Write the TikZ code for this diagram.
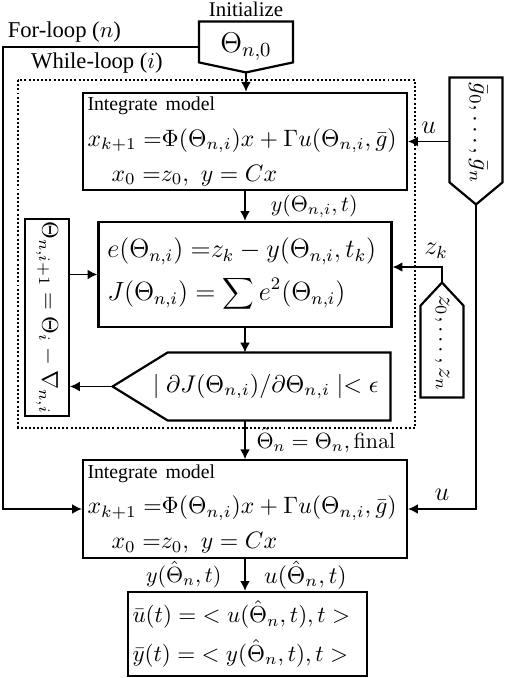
\documentclass[tikz,border=0pt]{standalone}
\usepackage{fix-cm}
\usepackage[no-math]{fontspec}
\setmainfont{Liberation Serif}
\usetikzlibrary{positioning,arrows.meta,calc}

\newcommand{\fsz}[1]{\fontsize{#1}{1.2\dimexpr#1pt\relax}\selectfont}

\begin{document}
\begin{tikzpicture}[>={Latex[length=4.5pt,width=4.5pt]}, x=0.16mm, y=-0.16mm,
  blk/.style={draw, line width=1pt, inner sep=2pt, align=left},
  shp/.style={inner sep=0pt},
  edge/.style={line width=1pt},
  lbl/.style={font=\fsz{10.3}, inner sep=2pt},
  arr/.style={->, thick}]
  \useasboundingbox (0,0) rectangle (505,678);

  \node[shp, minimum width=14.88mm, minimum height=8mm, font=\fsz{13}] (th0) at (246,47) {$\Theta_{n,0}$};
  \draw[edge] (th0.north west) -- (th0.north east) -- ($(th0.south east)+(0,-10)$) -- (th0.south) -- ($(th0.south west)+(0,-10)$) -- cycle;
  \node[lbl, font=\fsz{9.5}, above=0pt of th0] (initlbl) {Initialize};

  \draw[line width=0.9pt, dash pattern=on 0.9pt off 1pt] (18,80) rectangle (415,428);
  \node[lbl] (whilelbl) at (97,63) {While-loop ($i$)};

  \node[blk, text width=50.4mm, minimum height=14.88mm, font=\fsz{10.8}] (model1) at (245,141.5)
    {{\small Integrate model}\\[3pt]
     $x_{k+1}\;{=}\Phi(\Theta_{n,i})x+\Gamma u(\Theta_{n,i},\bar{g})$\\[3pt]
     \hspace*{11pt}$x_0\;{=}z_0,\ y=Cx$};
  \node[blk, inner xsep=4pt, text width=44.06mm, minimum height=16.8mm, font=\fsz{12}] (cost) at (245,274.5)
    {$e(\Theta_{n,i})\;{=}z_k-y(\Theta_{n,i},t_k)$\\[5pt]
     $J(\Theta_{n,i})=\displaystyle\sum e^2(\Theta_{n,i})$};

  \node[shp, minimum width=44.32mm, minimum height=10.72mm] (dec) at (251.5,386.5) {};
  \draw[edge] ($(dec.north west)+(55,0)$) -- (dec.north east) -- (dec.south east) -- ($(dec.south west)+(55,0)$) -- (dec.west) -- cycle;
  \node[anchor=east, font=\fsz{11}] (cond) at ($(dec.east)+(-4,0)$) {$\mid\partial J(\Theta_{n,i})/\partial\Theta_{n,i}\mid<\epsilon$};

  \node[draw, thick, minimum width=7.04mm, minimum height=31.52mm] (upd) at (47,317.5) {};
  \node[rotate=-90, font=\fsz{10.4}] (updtxt) at (upd.center) {$\Theta_{n,i+1}=\Theta_i-\nabla_{n,i}$};

  \node[shp, minimum width=8.32mm, minimum height=20.16mm] (gseq) at (476,141) {};
  \draw[edge] (gseq.north west) -- (gseq.north east) -- ($(gseq.south east)+(0,-22)$) -- (gseq.south) -- ($(gseq.south west)+(0,-22)$) -- cycle;
  \node[rotate=-90, font=\fsz{11}] (gtxt) at ($(gseq.center)+(2,-8)$) {$\bar{g}_0,\ldots,\bar{g}_n$};

  \node[shp, minimum width=6.72mm, minimum height=18.24mm] (zseq) at (442,340) {};
  \draw[edge] (zseq.south west) -- (zseq.south east) -- ($(zseq.north east)+(0,23)$) -- (zseq.north) -- ($(zseq.north west)+(0,23)$) -- cycle;
  \node[rotate=-90, font=\fsz{10.5}] (ztxt) at ($(zseq.center)+(0,3)$) {$z_0,\ldots,z_n$};

  \node[blk, text width=50.4mm, minimum height=15.04mm, font=\fsz{10.8}] (model2) at (245,509)
    {{\small Integrate model}\\[3pt]
     $x_{k+1}\;{=}\Phi(\Theta_{n,i})x+\Gamma u(\Theta_{n,i},\bar{g})$\\[3pt]
     \hspace*{11pt}$x_0\;{=}z_0,\ y=Cx$};
  \node[blk, text width=36.8mm, minimum height=13.44mm, font=\fsz{10.5}] (out) at (247.5,634)
    {$\bar{u}(t)=\;<u(\hat{\Theta}_n,t),t>$\\[5pt]
     $\bar{y}(t)=\;<y(\hat{\Theta}_n,t),t>$};

  \coordinate (forx) at (3,0);
  \node[lbl, anchor=south west] (forlbl) at (forx |- th0.west) {For-loop ($n$)};

  \draw[arr] (th0.south) -- (th0.south |- model1.north);
  \draw[arr] (model1.south) -- (model1.south |- cost.north) node[midway, right=8pt] {$y(\Theta_{n,i},t)$};
  \draw[arr] (cost.south) -- (cost.south |- dec.north);
  \draw[arr] (dec.west) -- (dec.west -| upd.east);
  \draw[arr] (cost.west -| upd.east) -- (cost.west);
  \draw[arr] (dec.south -| model2.north) -- (model2.north) node[midway, right=1.5pt] {$\hat{\Theta}_n=\Theta_n,\mathrm{final}$};
  \draw[arr] (model2.south) -- (model2.south |- out.north)
    node[midway, left=7pt] {$y(\hat{\Theta}_n,t)$} node[midway, right=5pt, font=\fsz{10.8}] {$u(\hat{\Theta}_n,t)$};
  \draw[arr] (th0.west) -| (forx |- model2.west) -- (model2.west);
  \draw[arr] (model1.east -| gseq.west) -- (model1.east) node[midway, above, font=\fsz{12}] {$u$};
  \draw[arr] (gseq.south) |- (model2.east) node[pos=0.75, above, font=\fsz{12}] {$u$};
  \draw[arr] (zseq.north) |- ([yshift=3.4pt]cost.east) node[pos=0.5, above, xshift=-2.7pt, font=\fsz{12}] {$z_k$};
\end{tikzpicture}
\end{document}
